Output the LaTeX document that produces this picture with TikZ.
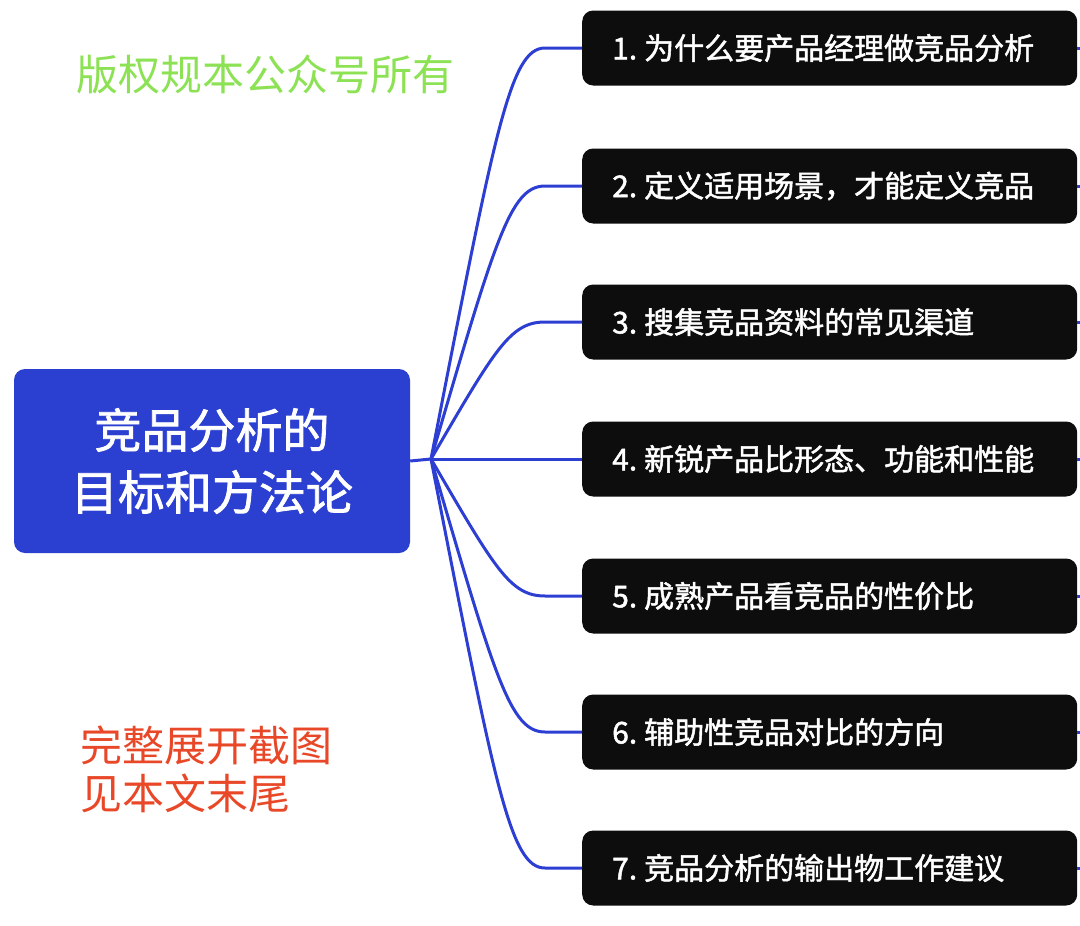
\documentclass[tikz,border=0pt]{standalone}
\usepackage{fontspec}
\setmainfont{Noto Sans CJK SC}
\newfontfamily\medfont[FakeBold=1.6]{Noto Sans CJK SC}
\definecolor{rootblue}{RGB}{43,63,208}
\definecolor{linkblue}{RGB}{45,62,210}
\definecolor{topicblack}{RGB}{13,13,13}
\definecolor{wmgreen}{RGB}{140,226,84}
\definecolor{notered}{RGB}{232,72,40}
\tikzset{
  rootbox/.style={fill=rootblue, rounded corners=11pt, minimum width=396pt, minimum height=184pt,
    text=white, align=center, inner sep=0pt, font=\medfont\fontsize{47}{62}\selectfont},
  topicbox/.style={fill=topicblack, rounded corners=11pt, minimum width=495pt, minimum height=75pt,
    text width=435pt, inner xsep=30pt, inner ysep=0pt, align=left, anchor=west, text=white,
    font=\medfont\fontsize{30}{34}\selectfont},
  link/.style={draw=linkblue, line width=3pt},
  wmtext/.style={text=wmgreen, anchor=west, inner sep=0pt, font=\fontsize{42}{48}\selectfont},
  notetext/.style={text=notered, anchor=west, inner sep=0pt, align=left, font=\fontsize{42}{48}\selectfont}
}
\newcommand{\nsp}{\hspace{7pt}}
\begin{document}
\begin{tikzpicture}[x=1pt,y=-1pt]
\useasboundingbox (0,0) rectangle (1080,926);
\node[rootbox] (root) at (212,461) {竞品分析的\\目标和方法论};
\coordinate (hub) at (431,459);
\node[topicbox] (n1) at (582,48) {1.\nsp{}为什么要产品经理做竞品分析};
\node[topicbox] (n2) at (582,186) {2.\nsp{}定义适用场景，才能定义竞品};
\node[topicbox] (n3) at (582,322) {3.\nsp{}搜集竞品资料的常见渠道};
\node[topicbox] (n4) at (582,459) {4.\nsp{}新锐产品比形态、功能和性能};
\node[topicbox] (n5) at (582,596) {5.\nsp{}成熟产品看竞品的性价比};
\node[topicbox] (n6) at (582,732) {6.\nsp{}辅助性竞品对比的方向};
\node[topicbox] (n7) at (582,868) {7.\nsp{}竞品分析的输出物工作建议};
\node[wmtext] (wm) at (76,75) {版权规本公众号所有};
\node[notetext] (note) at (80,769) {完整展开截图\\见本文末尾};
\draw[link] (root.east) -- (hub);
\foreach \i/\y in {1/48,2/186,3/322,5/596,6/732,7/868}{
  \draw[link] (hub) .. controls (495,{\y+0.2*(459-\y)}) and (510,\y) .. (545,\y) -- (n\i.west);
}
\draw[link] (hub) -- (n4.west);
\foreach \i in {1,...,7}{
  \draw[link] (n\i.east) -- ++(6,0);
}
\end{tikzpicture}
\end{document}
